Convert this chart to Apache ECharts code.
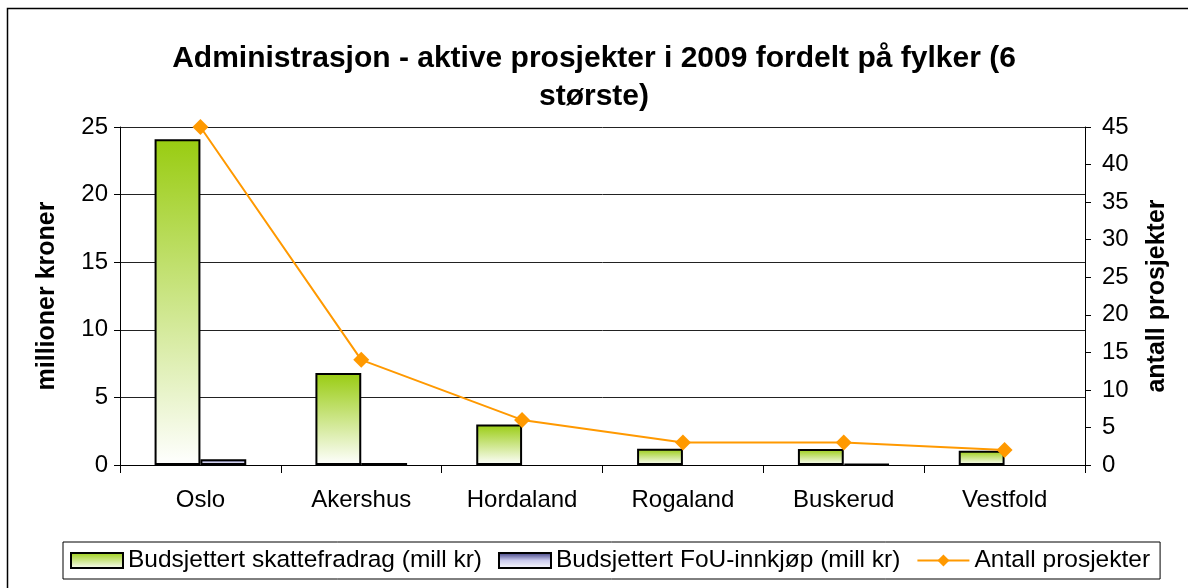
<!DOCTYPE html>
<html>
<head>
<meta charset="utf-8">
<script src="https://cdn.jsdelivr.net/npm/echarts@6/dist/echarts.min.js"></script>
<style>
  html, body { margin: 0; padding: 0; background: #fff; }
  #myChart { width: 1188px; height: 588px; }
</style>
</head>
<body>
<div id="myChart"></div>
<script>
// data
var fylker = ['Oslo', 'Akershus', 'Hordaland', 'Rogaland', 'Buskerud', 'Vestfold'];
var skattefradrag = [24.1, 6.8, 3.0, 1.2, 1.18, 1.05];
var fouInnkjop = [0.42, 0.15, null, null, 0.08, null]; // null = ingen stolpe
var antallProsjekter = [45, 14, 6, 3, 3, 2];

var font = 'Arial, "Liberation Sans", sans-serif';

var myChart = echarts.init(document.getElementById('myChart'));

var options = {
  textStyle: { fontFamily: font },
  animation: false,
  title: {
    text: 'Administrasjon - aktive prosjekter i 2009 fordelt på fylker (6\nstørste)',
    left: 'center',
    top: 35,
    textStyle: { fontSize: 30, fontWeight: 'bold', color: '#000', lineHeight: 38, fontFamily: font }
  },
  graphic: [{
    type: 'rect',
    shape: { x: 7.5, y: 8.5, width: 1200, height: 600 },
    style: { fill: 'none', stroke: '#000', lineWidth: 1.5 },
    silent: true
  }],
  legend: {
    left: 63,
    top: 542,
    padding: [6, 10, 6, 7],
    itemGap: 16,
    itemWidth: 52,
    itemHeight: 15,
    borderColor: '#000',
    borderWidth: 1,
    textStyle: { fontSize: 24.5, color: '#000', fontFamily: font },
    data: [
      { name: 'Budsjettert skattefradrag (mill kr)', icon: 'rect' },
      { name: 'Budsjettert FoU-innkjøp (mill kr)', icon: 'rect' },
      { name: 'Antall prosjekter' }
    ]
  },
  grid: { left: 120, right: 103, top: 127, bottom: 123 },
  xAxis: {
    type: 'category',
    data: fylker,
    axisLine: { lineStyle: { color: '#000', width: 1 } },
    axisTick: { show: true, length: 8, lineStyle: { color: '#000' } },
    axisLabel: { fontSize: 24, color: '#000', margin: 23 }
  },
  yAxis: [{
    type: 'value',
    min: 0, max: 25, interval: 5,
    name: 'millioner kroner',
    nameLocation: 'middle',
    nameRotate: 90,
    nameGap: 60,
    nameTextStyle: { fontSize: 25, fontWeight: 'bold', color: '#000' },
    axisLine: { show: true, lineStyle: { color: '#000' } },
    axisTick: { show: true, length: 6, lineStyle: { color: '#000' } },
    axisLabel: { fontSize: 24, color: '#000', margin: 12 },
    splitLine: { lineStyle: { color: '#222', width: 1 } }
  }, {
    type: 'value',
    min: 0, max: 45, interval: 5,
    name: 'antall prosjekter',
    nameLocation: 'middle',
    nameRotate: 90,
    nameGap: 60,
    nameTextStyle: { fontSize: 25, fontWeight: 'bold', color: '#000' },
    axisLine: { show: true, lineStyle: { color: '#000' } },
    axisTick: { show: true, length: 6, lineStyle: { color: '#000' } },
    axisLabel: { fontSize: 24, color: '#000', margin: 17 },
    splitLine: { show: false }
  }],
  series: [{
    name: 'Budsjettert skattefradrag (mill kr)',
    type: 'bar',
    yAxisIndex: 0,
    barGap: '0%',
    barCategoryGap: '43%',
    itemStyle: {
      color: new echarts.graphic.LinearGradient(0, 0, 0, 1, [
        { offset: 0, color: '#99CC11' },
        { offset: 1, color: '#FFFFFF' }
      ]),
      borderColor: '#000',
      borderWidth: 2
    },
    data: skattefradrag
  }, {
    name: 'Budsjettert FoU-innkjøp (mill kr)',
    type: 'bar',
    yAxisIndex: 0,
    itemStyle: {
      color: new echarts.graphic.LinearGradient(0, 0, 0, 1, [
        { offset: 0, color: '#333377' },
        { offset: 0.5, color: '#CCCCEE' },
        { offset: 1, color: '#FFFFFF' }
      ]),
      borderColor: '#000',
      borderWidth: 2
    },
    data: fouInnkjop
  }, {
    name: 'Antall prosjekter',
    type: 'line',
    yAxisIndex: 1,
    symbol: 'diamond',
    symbolSize: 16,
    lineStyle: { color: '#FF9900', width: 2 },
    itemStyle: { color: '#FF9900' },
    data: antallProsjekter
  }]
};

myChart.setOption(options);
</script>
</body>
</html>
